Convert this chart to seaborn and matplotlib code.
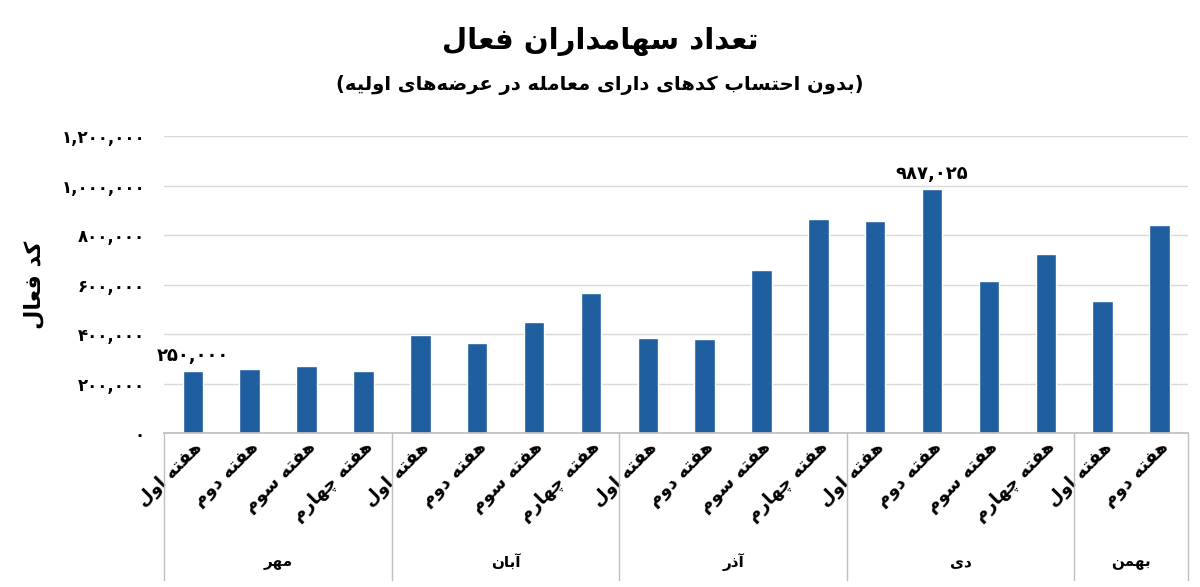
import numpy as np
import pandas as pd
import matplotlib
matplotlib.use("Agg")
import matplotlib.pyplot as plt
import seaborn as sns

# data
weeks = ["هفته اول", "هفته دوم", "هفته سوم", "هفته چهارم",
         "هفته اول", "هفته دوم", "هفته سوم", "هفته چهارم",
         "هفته اول", "هفته دوم", "هفته سوم", "هفته چهارم",
         "هفته اول", "هفته دوم", "هفته سوم", "هفته چهارم",
         "هفته اول", "هفته دوم"]
months = ["مهر", "آبان", "آذر", "دی", "بهمن"]
month_sizes = [4, 4, 4, 4, 2]
holders = [250000, 258000, 270000, 250000,
           396000, 364000, 448000, 566000,
           384000, 380000, 659000, 865000,
           857000, 987025, 614000, 723000,
           533000, 840000]
labelled = {0: 250000, 13: 987025}

# minimal Persian shaping (matplotlib does no bidi / joining)
FORMS = {
    "ا": (0xFE8D, 0xFE8E, None, None), "آ": (0xFE81, 0xFE82, None, None),
    "ب": (0xFE8F, 0xFE90, 0xFE91, 0xFE92), "ت": (0xFE95, 0xFE96, 0xFE97, 0xFE98),
    "ج": (0xFE9D, 0xFE9E, 0xFE9F, 0xFEA0), "ح": (0xFEA1, 0xFEA2, 0xFEA3, 0xFEA4),
    "د": (0xFEA9, 0xFEAA, None, None), "ذ": (0xFEAB, 0xFEAC, None, None),
    "ر": (0xFEAD, 0xFEAE, None, None), "ز": (0xFEAF, 0xFEB0, None, None),
    "س": (0xFEB1, 0xFEB2, 0xFEB3, 0xFEB4), "ض": (0xFEBD, 0xFEBE, 0xFEBF, 0xFEC0),
    "ع": (0xFEC9, 0xFECA, 0xFECB, 0xFECC), "ف": (0xFED1, 0xFED2, 0xFED3, 0xFED4),
    "ق": (0xFED5, 0xFED6, 0xFED7, 0xFED8), "ل": (0xFEDD, 0xFEDE, 0xFEDF, 0xFEE0),
    "م": (0xFEE1, 0xFEE2, 0xFEE3, 0xFEE4), "ن": (0xFEE5, 0xFEE6, 0xFEE7, 0xFEE8),
    "ه": (0xFEE9, 0xFEEA, 0xFEEB, 0xFEEC), "و": (0xFEED, 0xFEEE, None, None),
    "ی": (0xFBFC, 0xFBFD, 0xFBFE, 0xFBFF), "ک": (0xFB8E, 0xFB8F, 0xFB90, 0xFB91),
    "چ": (0xFB7A, 0xFB7B, 0xFB7C, 0xFB7D), "پ": (0xFB56, 0xFB57, 0xFB58, 0xFB59),
}


def fa(s):
    out = []
    for i, c in enumerate(s):
        if c not in FORMS:
            if c != "\u200c":
                out.append(c)
            continue
        prev = s[i - 1] if i > 0 else ""
        nxt = s[i + 1] if i + 1 < len(s) else ""
        jp = prev in FORMS and FORMS[prev][2] is not None
        jn = FORMS[c][2] is not None and nxt in FORMS
        iso, fin, ini, med = FORMS[c]
        if jp and jn:
            code = med
        elif jp:
            code = fin
        elif jn:
            code = ini
        else:
            code = iso
        out.append(chr(code))
    return "".join(out[::-1])


def fa_num(v):
    s = f"{v:,}"
    return s.translate(str.maketrans("0123456789", "۰۱۲۳۴۵۶۷۸۹"))


sns.set_theme(style="white")
plt.rcParams["font.family"] = ["DejaVu Sans"]
plt.rcParams["text.color"] = "black"
plt.rcParams["xtick.color"] = "black"
plt.rcParams["ytick.color"] = "black"
plt.rcParams["axes.labelcolor"] = "black"

df = pd.DataFrame({"pos": range(len(holders)), "val": holders})

fig = plt.figure(figsize=(12, 5.87), dpi=100)
ax = fig.add_axes([0.137, 0.262, 0.853, 0.506])
sns.barplot(data=df, x="pos", y="val", color="#1F5FA0", saturation=1,
            width=0.36, ax=ax)

ax.set_ylim(0, 1200000)
ax.set_xlim(-0.5, len(holders) - 0.5)
ticks = np.arange(0, 1200001, 200000)
ax.set_yticks(ticks)
ax.set_yticklabels([fa_num(int(t)) for t in ticks], fontsize=12, fontweight="bold")
ax.yaxis.grid(True, color="#d9d9d9", linewidth=1)
ax.set_axisbelow(True)
for sp in ["top", "right", "left"]:
    ax.spines[sp].set_visible(False)
ax.spines["bottom"].set_color("#bfbfbf")
ax.tick_params(axis="y", length=0, pad=14)
ax.tick_params(axis="x", length=0)

ax.set_xticks(range(len(weeks)))
ax.set_xticklabels([fa(w) for w in weeks], rotation=45, ha="right",
                   rotation_mode="anchor", fontsize=13, fontweight="bold")
ax.set_xlabel("")
ax.set_ylabel(fa("کد فعال"), fontsize=16, fontweight="bold", labelpad=12)

for i, v in labelled.items():
    ax.text(i, v + 25000, fa_num(v), ha="center", va="bottom",
            fontsize=13, fontweight="bold")

# month groups below the week labels
trans = ax.get_xaxis_transform()
edge = -0.5
for m, n in zip(months, month_sizes):
    ax.plot([edge, edge], [0, -0.495], transform=trans,
            color="#bfbfbf", lw=1, clip_on=False)
    ax.text(edge + n / 2, -0.435, fa(m), transform=trans,
            ha="center", va="center", fontsize=11, fontweight="bold")
    edge += n
ax.plot([edge, edge], [0, -0.495], transform=trans,
        color="#bfbfbf", lw=1, clip_on=False)

fig.text(0.5, 0.93, fa("تعداد سهامداران فعال"), ha="center", va="center",
         fontsize=21, fontweight="bold")
fig.text(0.5, 0.855, "(" + fa("بدون احتساب کدهای دارای معامله در عرضه\u200cهای اولیه") + ")",
         ha="center", va="center", fontsize=14, fontweight="bold")

fig.savefig("out.png", dpi=100)
